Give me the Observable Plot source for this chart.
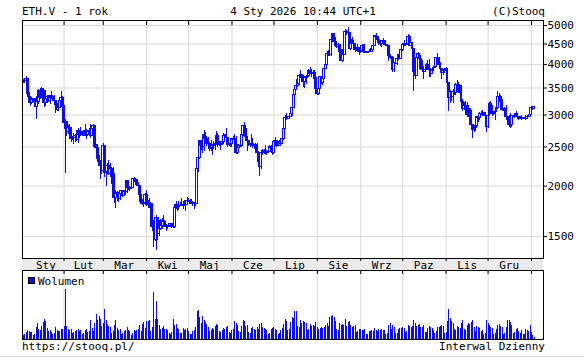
<!DOCTYPE html>
<html><head><meta charset="utf-8">
<script src="https://cdn.jsdelivr.net/npm/d3@7"></script>
<script src="https://cdn.jsdelivr.net/npm/@observablehq/plot@0.6"></script>
<style>
body{margin:0;background:#fff;}
#wrap{position:relative;width:584px;height:361px;overflow:hidden;font-family:"DejaVu Sans Mono",monospace;}
#wrap > svg, #wrap > div{position:absolute;left:0;}
</style></head><body>
<div id="wrap">
<svg id="bg" width="584" height="361" style="top:0">
  <rect x="22" y="258" width="521" height="12" fill="#ebebeb"></rect>
  <rect x="0" y="356" width="584" height="1" fill="#d4d4d4"></rect>
</svg>
<div id="price" style="top:0"></div>
<div id="vol" style="top:262px"></div>
<svg id="fg" width="584" height="361" style="top:0;pointer-events:none" font-family="DejaVu Sans Mono" font-size="11" fill="#000">
  <text x="22" y="15">ETH.V - 1 rok</text>
  <text x="303" y="15" text-anchor="middle">4 Sty 2026 10:44 UTC+1</text>
  <text x="545" y="15" text-anchor="end">(C)Stooq</text>
  <rect x="28.5" y="277.5" width="6" height="6" fill="#0a0aff" stroke="#000" stroke-width="1"></rect>
  <text x="38" y="284.5">Wolumen</text>
  <text x="22" y="350">https://stooq.pl/</text>
  <text x="545" y="350" text-anchor="end">Interwal Dzienny</text>
</svg>
</div>
<script>
// ---- data (daily candles, 366 sessions) ----
const firstDay = "2025-01-03";
const firstOpen = 3600;
const close = [
 3657,3637,3685,3380,3328,3218,3267,3282,3266,3140,3226,3450,3307,3473,3306,3217,3285,3330,3241,3339,3310,3319,3250,3180,3080,3120,3250,3300,
 3140,2870,2880,2730,2785,2690,2620,2630,2630,2660,2600,2740,2680,2725,2690,2660,2740,2670,2720,2740,2660,2770,2820,2500,2490,2340,2300,2240,
 2180,2520,2150,2170,2240,2140,2200,2200,2020,1870,1920,1910,1860,1910,1940,1890,1930,1930,2060,1980,1970,1980,2080,2080,2070,2010,2000,1900,1830,1810,1820,
 1905,1795,1815,1810,1805,1580,1555,1470,1670,1520,1570,1640,1590,1625,1585,1580,1585,1590,1612,1590,1580,1760,1800,1770,1790,1790,1790,1800,1800,1795,
 1840,1840,1835,1810,1815,1815,1810,2205,2345,2580,2510,2495,2680,2610,2545,2540,2470,2490,2520,2530,2550,2665,2525,2530,2550,2565,2660,2680,2630,2530,2530,
 2540,2610,2600,2610,2420,2480,2520,2510,2680,2820,2770,2645,2580,2525,2540,2550,2510,2525,2520,2410,2300,2230,2410,2450,2420,2420,2420,2435,2500,2485,
 2410,2570,2590,2510,2520,2570,2540,2610,2770,2950,2960,2940,2970,3010,3130,3370,3470,3550,3590,3750,3760,3740,3630,3710,3720,3740,3860,3790,3790,3810,3700,
 3490,3390,3490,3720,3610,3680,3910,3990,4260,4260,4220,4600,4750,4550,4440,4430,4470,4310,4080,4340,4230,4830,4780,4780,4380,4600,4510,4510,4360,4370,4390,
 4310,4330,4450,4300,4300,4280,4300,4310,4300,4350,4460,4710,4670,4600,4520,4500,4590,4590,4470,4480,4450,4200,4160,4150,3870,4030,4010,4140,4220,4140,
 4350,4480,4510,4480,4510,4690,4460,4520,4370,3830,3750,4150,4240,4130,3980,3890,3830,3890,3980,3980,3870,3800,3860,3930,3950,4160,4120,3980,3900,3810,3850,
 3880,3900,3600,3300,3420,3320,3420,3400,3560,3560,3420,3410,3230,3110,3160,3090,3000,3110,3020,2830,2750,2760,2810,2960,2950,3020,3020,3040,2990,2990,
 2800,2990,3190,3140,3020,3040,3060,3120,3320,3330,3240,3090,3110,3070,2960,2930,2830,2830,2980,2980,2970,3010,2960,2950,2940,2930,2950,2950,2940,2970,2970,
 3000,3120,3110,3140
];
const high = [
 3672,3670,3745,3700,3410,3335,3320,3300,3305,3330,3260,3470,3460,3520,3480,3450,3450,3360,3345,3350,3430,3350,3350,3250,3210,3150,3280,3440,
 3340,3160,2930,2880,2830,2850,2800,2660,2700,2690,2730,2780,2740,2790,2730,2720,2850,2760,2740,2780,2845,2790,2850,2830,2530,2530,2380,2310,
 2270,2550,2520,2200,2280,2320,2280,2230,2220,2150,1950,1940,1930,1940,1950,1940,1950,1940,2070,2060,1990,2000,2090,2100,2080,2070,2040,2010,1910,1850,1870,
 1920,1950,1840,1860,1820,1810,1640,1620,1690,1670,1590,1650,1660,1690,1640,1610,1600,1600,1620,1620,1660,1780,1830,1800,1830,1820,1860,1830,1840,1810,
 1870,1860,1850,1850,1830,1820,1850,2210,2400,2600,2590,2620,2740,2720,2650,2640,2560,2590,2530,2580,2630,2730,2700,2580,2560,2600,2700,2690,2780,2640,2540,
 2550,2630,2660,2680,2660,2530,2540,2540,2690,2830,2880,2780,2650,2590,2550,2680,2620,2540,2550,2550,2430,2320,2430,2470,2460,2520,2450,2440,2520,2520,
 2500,2590,2640,2600,2530,2600,2600,2620,2790,2990,3020,2970,3000,3080,3160,3390,3490,3680,3620,3760,3860,3790,3750,3740,3760,3780,3880,3940,3880,3870,3870,
 3720,3500,3500,3740,3730,3720,3920,4020,4300,4330,4360,4620,4790,4780,4670,4480,4500,4470,4370,4370,4350,4880,4860,4950,4780,4630,4660,4580,4520,4390,4480,
 4400,4380,4490,4490,4480,4320,4320,4370,4380,4400,4480,4720,4770,4700,4660,4520,4600,4650,4600,4500,4490,4450,4230,4190,4180,4050,4040,4150,4230,4240,
 4370,4520,4580,4520,4590,4750,4710,4540,4530,4390,3850,4160,4290,4250,4220,4100,3950,3950,4030,4090,4110,3920,3900,3960,3950,4170,4250,4170,4040,3900,3900,
 3900,3930,3910,3610,3450,3440,3470,3460,3600,3650,3620,3550,3550,3270,3220,3250,3220,3160,3120,3070,2840,2800,2850,2980,2980,3050,3060,3070,3040,3050,
 3000,3010,3220,3240,3170,3060,3100,3170,3440,3400,3350,3270,3120,3130,3170,2980,3000,3020,3000,2990,3000,3060,3010,2970,2970,3000,2960,2960,3000,3000,3000,
 3010,3150,3140,3150
];
const low = [
 3612,3600,3620,3360,3210,3155,3190,3230,3230,2920,3130,3180,3270,3300,3230,3140,3150,3210,3230,3190,3280,3270,3240,3020,3060,3060,3110,3280,
 3110,2760,2150,2660,2700,2660,2560,2590,2530,2560,2580,2550,2630,2660,2670,2650,2650,2610,2650,2700,2620,2650,2760,2490,2350,2310,2250,2080,
 2140,2170,2100,1990,2150,2120,2100,2180,2010,1810,1760,1830,1820,1840,1900,1870,1880,1890,1920,1950,1940,1960,1980,2040,2030,2000,1990,1870,1820,1790,1770,
 1820,1780,1760,1760,1770,1540,1410,1460,1385,1470,1500,1550,1560,1580,1575,1540,1565,1575,1580,1570,1570,1570,1750,1730,1740,1780,1780,1745,1780,1730,
 1790,1820,1825,1800,1780,1750,1780,1810,2160,2330,2450,2410,2430,2560,2500,2510,2430,2440,2380,2470,2450,2540,2490,2500,2450,2520,2530,2600,2610,2490,2500,
 2490,2490,2590,2590,2400,2390,2470,2490,2490,2660,2750,2630,2440,2500,2490,2530,2480,2470,2500,2370,2260,2115,2200,2380,2390,2400,2380,2410,2420,2470,
 2380,2400,2570,2490,2500,2510,2520,2530,2600,2760,2910,2920,2940,2960,2970,3110,3330,3460,3520,3560,3700,3650,3520,3500,3570,3700,3720,3770,3720,3680,3680,
 3460,3360,3360,3480,3580,3560,3670,3880,3990,4190,4180,4200,4600,4430,4400,4380,4420,4220,4070,4060,4200,4210,4720,4700,4380,4340,4500,4440,4290,4300,4370,
 4210,4250,4290,4260,4270,4260,4270,4280,4290,4290,4340,4430,4640,4580,4460,4440,4420,4560,4460,4460,4450,4080,4120,4110,3830,3830,4000,3980,4090,4110,
 4140,4320,4440,4440,4460,4500,4440,4400,4240,3440,3680,3730,4110,3900,3930,3880,3680,3820,3860,3930,3720,3720,3770,3850,3910,3940,4110,3920,3870,3680,3760,
 3810,3840,3540,3060,3200,3250,3200,3350,3360,3520,3400,3370,3180,3060,3120,3060,2950,2950,2900,2800,2620,2710,2730,2780,2880,2900,2990,2990,2970,2980,
 2720,2780,2990,3090,2980,3000,2910,3040,3100,3300,3150,3060,3080,3050,2900,2880,2800,2780,2800,2960,2940,2960,2920,2910,2920,2900,2920,2920,2910,2920,2950,
 2960,2990,3080,3100
];
const volume = [
 4,5,7,9,8,7,7,4,5,12,16,10,9,13,17,20,18,11,8,9,7,5,6,12,9,8,8,10,
 10,13,50,13,10,9,10,6,7,8,9,10,8,9,5,6,9,10,7,8,19,11,8,16,25,19,23,20,
 13,16,30,19,15,13,12,6,8,14,19,11,9,10,5,6,8,9,12,9,8,4,6,9,8,9,10,14,8,15,17,
 11,18,18,19,8,12,47,20,38,20,14,10,11,13,10,10,9,6,5,7,20,14,15,11,10,6,6,11,9,10,
 11,8,5,5,8,9,12,28,29,22,16,23,19,17,15,12,8,9,11,10,13,15,14,8,7,9,11,10,12,13,7,
 6,9,10,18,16,14,8,7,13,19,18,13,14,7,6,11,12,10,9,12,10,15,16,12,11,10,9,5,6,10,
 11,12,10,9,5,6,9,11,15,20,18,9,10,17,22,21,28,28,13,12,19,16,18,17,16,9,10,15,13,14,13,
 17,12,10,11,12,11,12,14,16,13,22,23,24,22,18,10,9,16,14,15,14,20,13,17,18,14,12,13,14,7,8,
 10,10,9,9,10,5,5,8,8,9,8,11,9,8,10,9,10,9,9,5,6,14,16,10,14,12,6,6,10,11,
 11,12,11,7,8,14,13,12,13,19,16,13,14,15,12,12,14,7,7,11,13,12,11,9,6,8,12,12,13,14,13,
 6,7,18,30,21,18,16,10,9,13,12,11,16,19,10,9,14,16,15,17,19,12,8,13,12,11,8,9,5,6,
 19,16,14,12,11,5,6,10,14,15,13,12,5,6,12,19,19,17,14,6,7,10,11,8,6,9,5,5,10,9,8,
 14,7,4,2
];
const yTicks = [1500, 2000, 2500, 3000, 3500, 4000, 4500, 5000];
const monthNames = ["Sty","Lut","Mar","Kwi","Maj","Cze","Lip","Sie","Wrz","Paz","Lis","Gru"];
const monthLabelDays = ["2025-01-19","2025-02-15","2025-03-16","2025-04-16","2025-05-16","2025-06-16","2025-07-16","2025-08-16","2025-09-16","2025-10-16","2025-11-16","2025-12-16"];
const monthStartDays = ["2025-02-01","2025-03-01","2025-04-01","2025-05-01","2025-06-01","2025-07-01","2025-08-01","2025-09-01","2025-10-01","2025-11-01","2025-12-01","2026-01-01"];
const xDomain = [new Date("2025-01-02T07:12:00Z"), new Date("2026-01-09T14:24:00Z")];
const yDomain = [1323, 5145];
const volDomain = [0, 69];

// ---- build ----
const blue = "#0a0aff";
const grid = "#d9d9d9";
const DAY = 864e5;
const t0 = new Date(firstDay + "T00:00:00Z");
const candles = close.map((c, i) => {
  const o = i === 0 ? firstOpen : close[i - 1];
  const date = d3.utcDay.offset(t0, i);
  return {
    date, open: o, close: c,
    high: Math.max(high[i], o, c), low: Math.min(low[i], o, c),
    volume: volume[i], up: c >= o,
    x1: new Date(+date - 0.7 * DAY), x2: new Date(+date + 0.7 * DAY)
  };
});
const monthStarts = monthStartDays.map(s => new Date(s + "T00:00:00Z"));
const monthLabels = monthNames.map((n, i) => ({name: n, date: new Date(monthLabelDays[i] + "T00:00:00Z")}));
const font = {fontFamily: "DejaVu Sans Mono", fontSize: "11px", background: "transparent", color: "#000", overflow: "visible"};

const price = Plot.plot({
  width: 584, height: 270,
  marginTop: 20, marginBottom: 12, marginLeft: 22, marginRight: 41,
  style: font,
  x: {type: "utc", domain: xDomain},
  y: {type: "log", domain: yDomain},
  color: {type: "identity"},
  marks: [
    Plot.gridY(yTicks, {stroke: grid, strokeOpacity: 1}),
    Plot.gridX(monthStarts, {stroke: grid, strokeOpacity: 1}),
    Plot.ruleX(candles, {x: "date", y1: "low", y2: "high", stroke: blue, strokeWidth: 1, shapeRendering: "crispEdges"}),
    Plot.rect(candles, {x1: "x1", x2: "x2", y1: "open", y2: "close", fill: d => d.up ? "#ffffff" : blue, stroke: blue, strokeWidth: 1, shapeRendering: "crispEdges"}),
    Plot.frame({stroke: "#000"}),
    Plot.axisY(yTicks, {anchor: "right", tickSize: 3, tickPadding: 1, tickFormat: d => String(d), fontSize: 11, fill: "#000", stroke: "#000"}),
    Plot.axisX(monthStarts, {anchor: "top", tickSize: -4, tickFormat: () => "", stroke: "#000"}),
    Plot.axisX(monthStarts, {anchor: "bottom", tickSize: 3, tickFormat: () => "", stroke: "#000"}),
    Plot.text(monthLabels, {x: "date", text: "name", frameAnchor: "bottom", dy: 6.5, lineAnchor: "middle", fontSize: 11, fill: "#000"})
  ]
});
document.getElementById("price").appendChild(price);

const vol = Plot.plot({
  width: 584, height: 82,
  marginTop: 8, marginBottom: 5, marginLeft: 22, marginRight: 41,
  style: font,
  x: {type: "utc", domain: xDomain, axis: null},
  y: {domain: volDomain, axis: null},
  marks: [
    Plot.gridX(monthStarts, {stroke: grid, strokeOpacity: 1}),
    Plot.ruleX(candles, {x: "date", y1: 0, y2: "volume", stroke: blue, strokeWidth: 1, shapeRendering: "crispEdges"}),
    Plot.frame({stroke: "#000"}),
    Plot.axisX(monthStarts, {anchor: "top", tickSize: -3, tickFormat: () => "", stroke: "#000"})
  ]
});
document.getElementById("vol").appendChild(vol);
</script>
</body></html>
